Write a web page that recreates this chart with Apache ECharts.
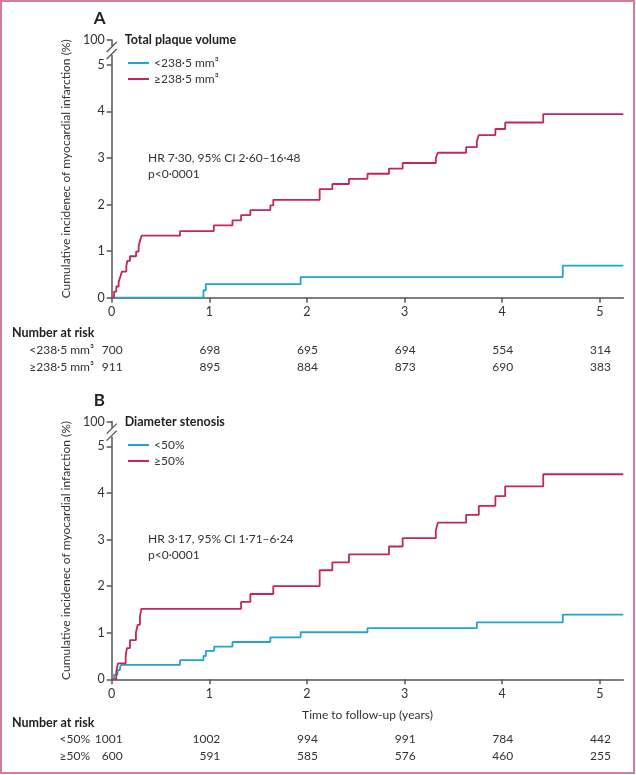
<!DOCTYPE html>
<html><head><meta charset="utf-8">
<script src="https://cdn.jsdelivr.net/npm/echarts@6/dist/echarts.min.js"></script>
<style>html,body{margin:0;padding:0;background:#fff}#c{width:636px;height:775px}</style>
</head><body><div id="c"></div>
<script>
// ---- data ----
const xTicks = [0, 1, 2, 3, 4, 5];
const yTicks = [0, 1, 2, 3, 4, 5];
const yTopTick = 5.53;          // position of the broken-axis "100" tick
const yTopLabel = '100';
const xMax = 5.24;

// Panel A: total plaque volume
const aLowName = '<238·5 mm³';
const aHighName = '≥238·5 mm³';
const aLowT = [0, 0.94, 0.964, 1.935, 4.62, 5.24];
const aLowV = [0, 0.16, 0.29, 0.44, 0.69, 0.69];
const aHighT = [0, 0.024, 0.047, 0.071, 0.088, 0.105, 0.15, 0.16, 0.187, 0.25, 0.276, 0.29, 0.306, 0.70, 1.046, 1.237, 1.325, 1.42, 1.625, 1.655, 2.13, 2.26, 2.43, 2.62, 2.84, 2.98, 3.32, 3.34, 3.63, 3.74, 3.76, 3.93, 4.03, 4.42, 5.24];
const aHighV = [0, 0.13, 0.24, 0.34, 0.45, 0.56, 0.68, 0.79, 0.89, 0.99, 1.11, 1.22, 1.33, 1.43, 1.55, 1.66, 1.77, 1.88, 1.98, 2.10, 2.33, 2.44, 2.55, 2.66, 2.77, 2.89, 3.00, 3.11, 3.23, 3.36, 3.49, 3.62, 3.76, 3.94, 3.94];

// Panel B: diameter stenosis
const bLowName = '<50%';
const bHighName = '≥50%';
const bLowT = [0, 0.024, 0.06, 0.085, 0.10, 0.70, 0.94, 0.964, 1.05, 1.237, 1.625, 1.935, 2.62, 3.74, 4.62, 5.24];
const bLowV = [0, 0.10, 0.20, 0.26, 0.31, 0.41, 0.50, 0.61, 0.70, 0.80, 0.90, 1.01, 1.10, 1.22, 1.39, 1.39];
const bHighT = [0, 0.047, 0.064, 0.143, 0.156, 0.187, 0.248, 0.266, 0.289, 0.303, 1.325, 1.42, 1.655, 2.13, 2.26, 2.43, 2.84, 2.98, 3.32, 3.34, 3.63, 3.76, 3.93, 4.03, 4.42, 5.24];
const bHighV = [0, 0.17, 0.34, 0.50, 0.67, 0.84, 1.00, 1.17, 1.34, 1.51, 1.66, 1.83, 2.00, 2.34, 2.51, 2.68, 2.85, 3.03, 3.19, 3.36, 3.53, 3.72, 3.93, 4.14, 4.40, 4.40];

// Number at risk
const riskTimes = [0, 1, 2, 3, 4, 5];
const riskALow = [700, 698, 695, 694, 554, 314];
const riskAHigh = [911, 895, 884, 873, 690, 383];
const riskBLow = [1001, 1002, 994, 991, 784, 442];
const riskBHigh = [600, 591, 585, 576, 460, 255];

// ---- style ----
const FONT = 'Lato';
const FS = 12;
const RED = '#c62651';
const BLUE = '#20a6cc';
const AXIS = '#555555';
const TXT = '#333333';

const pairs = (t, v) => t.map((x, i) => [x, v[i]]);

function xAx(gi, name) {
  return {
    type: 'value', gridIndex: gi, min: 0, max: xMax,
    name: name || '', nameLocation: 'middle', nameGap: 30,
    nameTextStyle: { fontFamily: FONT, fontSize: FS, color: TXT },
    axisLine: { lineStyle: { color: AXIS, width: 1.5 } },
    axisTick: { customValues: xTicks, length: 5, lineStyle: { color: AXIS, width: 1.5 } },
    axisLabel: { customValues: xTicks, margin: 8, fontFamily: FONT, fontSize: 12.5, color: TXT },
    splitLine: { show: false }
  };
}
function yAx(gi) {
  const vals = yTicks.concat([yTopTick]);
  return {
    type: 'value', gridIndex: gi, min: 0, max: yTopTick,
    name: 'Cumulative incidenec of myocardial infarction (%)',
    nameLocation: 'middle', nameRotate: 90, nameGap: 37,
    nameTextStyle: { fontFamily: FONT, fontSize: FS, color: TXT },
    axisLine: { show: true, lineStyle: { color: AXIS, width: 1.5 } },
    axisTick: { show: true, customValues: vals, length: 5, lineStyle: { color: AXIS, width: 1.5 } },
    axisLabel: { customValues: vals, margin: 7, fontFamily: FONT, fontSize: 12.5, color: TXT,
      formatter: v => (Math.abs(v - yTopTick) < 1e-6 ? yTopLabel : String(v)) },
    splitLine: { show: false }
  };
}
function ser(name, gi, t, v, color) {
  return {
    type: 'line', name, xAxisIndex: gi, yAxisIndex: gi, step: 'end',
    data: pairs(t, v), symbol: 'none', showSymbol: false,
    lineStyle: { color, width: 1.8 }, itemStyle: { color }, silent: true
  };
}
function leg(names, top) {
  return { data: names, orient: 'vertical', left: 123, top, icon: 'rect', itemWidth: 21, itemHeight: 2, itemGap: 2,
    textStyle: { fontFamily: FONT, fontSize: FS, color: TXT, lineHeight: 14 }, selectedMode: false };
}

const chart = echarts.init(document.getElementById('c'), null, { renderer: 'canvas' });
const GRID_LEFT = 111.7, GRID_W = 511.6, GRID_H = 257.7;
const option = {
  animation: false,
  backgroundColor: '#ffffff',
  grid: [
    { left: GRID_LEFT, top: 40, width: GRID_W, height: GRID_H },
    { left: GRID_LEFT, top: 421.6, width: GRID_W, height: GRID_H }
  ],
  xAxis: [xAx(0), xAx(1, 'Time to follow-up (years)')],
  yAxis: [yAx(0), yAx(1)],
  legend: [leg([aLowName, aHighName], 51), leg([bLowName, bHighName], 433)],
  series: [
    ser(aLowName, 0, aLowT, aLowV, BLUE),
    ser(aHighName, 0, aHighT, aHighV, RED),
    ser(bLowName, 1, bLowT, bLowV, BLUE),
    ser(bHighName, 1, bHighT, bHighV, RED)
  ]
};
chart.setOption(option);

// ---- annotations (text + axis break), positioned with the chart's own scales ----
function px(gi, x, y) { return chart.convertToPixel({ gridIndex: gi }, [x, y]); }
const g = [];
g.push({ type: 'rect', shape: { x: 1, y: 1, width: 633, height: 772 }, style: { fill: 'none', stroke: '#d67a9b', lineWidth: 2 }, z: 100 });
function txt(x, y, s, opt) {
  g.push({ type: 'text', x, y, style: Object.assign({ text: s, fontFamily: FONT, fontSize: FS, fill: TXT, verticalAlign: 'middle', align: 'left' }, opt || {}), z: 50 });
}
const panels = [
  { gi: 0, letter: 'A', title: 'Total plaque volume', hr: 'HR 7·30, 95% CI 2·60–16·48', lowName: aLowName, highName: aHighName, low: riskALow, high: riskAHigh, rowLabelX: 94, riskOff: [35.6, 52.3, 69] },
  { gi: 1, letter: 'B', title: 'Diameter stenosis', hr: 'HR 3·17, 95% CI 1·71–6·24', lowName: bLowName, highName: bHighName, low: riskBLow, high: riskBHigh, rowLabelX: 90, riskOff: [44, 60, 76.7] }
];
panels.forEach(p => {
  const origin = px(p.gi, 0, 0);
  const top = px(p.gi, 0, yTopTick);
  const ax = origin[0], y0 = origin[1], yt = top[1];
  txt(ax - 18, yt - 21, p.letter, { fontSize: 17, fontWeight: 'bold', fill: '#222' });
  txt(ax + 13, yt, p.title, { fontSize: 12.5, fontWeight: 'bold', fill: '#222' });
  txt(148, px(p.gi, 0, 3)[1], p.hr);
  txt(148, px(p.gi, 0, 3)[1] + 16, 'p<0·0001');
  // axis break
  g.push({ type: 'rect', shape: { x: ax - 3, y: yt + 6, width: 6, height: 9 }, style: { fill: '#fff' }, z: 40 });
  g.push({ type: 'line', shape: { x1: ax - 5, y1: yt + 12, x2: ax + 5, y2: yt + 2 }, style: { stroke: AXIS, lineWidth: 1.3 }, z: 41 });
  g.push({ type: 'line', shape: { x1: ax - 5, y1: yt + 19, x2: ax + 5, y2: yt + 9 }, style: { stroke: AXIS, lineWidth: 1.3 }, z: 41 });
  // number at risk
  txt(12, y0 + p.riskOff[0], 'Number at risk', { fontSize: 12.5, fontWeight: 'bold', fill: '#222' });
  txt(p.rowLabelX, y0 + p.riskOff[1], p.lowName, { align: 'right' });
  txt(p.rowLabelX, y0 + p.riskOff[2], p.highName, { align: 'right' });
  riskTimes.forEach((t, i) => {
    const x = px(p.gi, t, 0)[0] + 11;
    txt(x, y0 + p.riskOff[1], String(p.low[i]), { align: 'right' });
    txt(x, y0 + p.riskOff[2], String(p.high[i]), { align: 'right' });
  });
});
chart.setOption({ graphic: g });
</script>
</body></html>
